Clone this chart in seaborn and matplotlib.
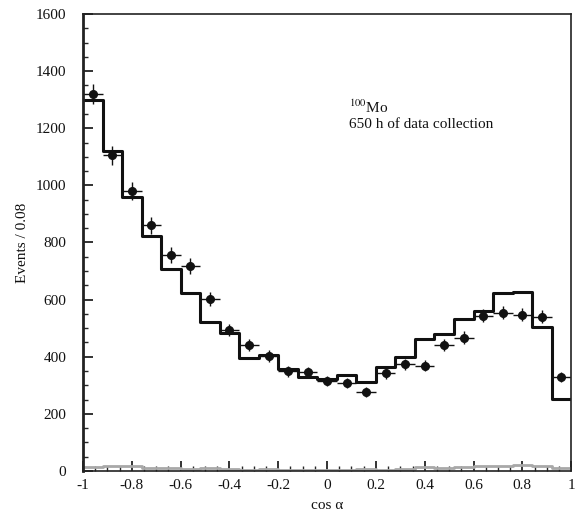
import numpy as np
import matplotlib
matplotlib.use("Agg")
import matplotlib.pyplot as plt
import seaborn as sns
from matplotlib.ticker import MultipleLocator, FuncFormatter

# ---- data ----
bin_edges = [round(-1 + 0.08 * i, 2) for i in range(26)]
mc_counts = [1298, 1121, 958, 821, 706, 622, 521, 482, 394, 405,
             356, 330, 321, 335, 312, 365, 400, 461, 480, 533,
             561, 622, 628, 503, 251]
bg_counts = [13, 16, 16, 11, 10, 8, 10, 7, 5, 6,
             5, 5, 5, 5, 6, 5, 8, 15, 12, 15,
             18, 16, 20, 18, 10]
data_counts = [1320, 1106, 981, 860, 755, 718, 602, 494, 442, 403,
               349, 345, 316, 309, 277, 342, 374, 369, 441, 467,
               544, 554, 547, 540, 329]
label_iso = "$^{100}$Mo"
label_time = "650 h of data collection"

centers = [(bin_edges[i] + bin_edges[i + 1]) / 2 for i in range(25)]
data_err = [np.sqrt(v) for v in data_counts]

sns.set_theme(style="white")
plt.rcParams['font.family'] = ['Liberation Serif', 'DejaVu Serif']
plt.rcParams['mathtext.fontset'] = 'stix'
plt.rcParams['axes.unicode_minus'] = False

fig = plt.figure(figsize=(5.78, 5.14), dpi=100)
ax = fig.add_axes([0.1436, 0.0837, 0.8446, 0.8891])

sns.histplot(x=centers, weights=bg_counts, bins=bin_edges, element="step",
             fill=False, color="#a8a8a8", linewidth=2, ax=ax)
sns.histplot(x=centers, weights=mc_counts, bins=bin_edges, element="step",
             fill=False, color="#111111", linewidth=2.2, ax=ax)
ax.errorbar(centers, data_counts, xerr=0.04, yerr=data_err, fmt="o",
            color="#111111", markersize=5.5, elinewidth=1, capsize=0)

ax.set_xlim(-1, 1)
ax.set_ylim(0, 1600)
ax.xaxis.set_major_locator(MultipleLocator(0.2))
ax.xaxis.set_minor_locator(MultipleLocator(0.05))
ax.yaxis.set_major_locator(MultipleLocator(200))
ax.yaxis.set_minor_locator(MultipleLocator(50))
ax.xaxis.set_major_formatter(FuncFormatter(lambda v, p: "%g" % round(v, 2)))
ax.tick_params(axis="both", which="major", direction="in", length=7, width=1.2,
               labelsize=11, colors="#111111", bottom=True, left=True)
ax.tick_params(axis="y", which="major", pad=12)
ax.tick_params(axis="x", which="major", pad=6)
ax.tick_params(axis="both", which="minor", direction="in", length=3.5, width=1.0,
               bottom=True, left=True)
for s in ["top", "right", "bottom"]:
    ax.spines[s].set_linewidth(1.2)
    ax.spines[s].set_color("#222222")
    ax.spines[s].set_visible(True)
ax.spines["left"].set_linewidth(2)
ax.spines["left"].set_color("#222222")

ax.set_xlabel("cos α", fontsize=11, color="#111111", labelpad=5)
ax.set_ylabel("Events / 0.08", fontsize=11, color="#111111", labelpad=5)

ax.text(0.09, 1253, label_iso, fontsize=11, color="#111111")
ax.text(0.09, 1200, label_time, fontsize=11, color="#111111")

fig.savefig("out.png", dpi=100)
